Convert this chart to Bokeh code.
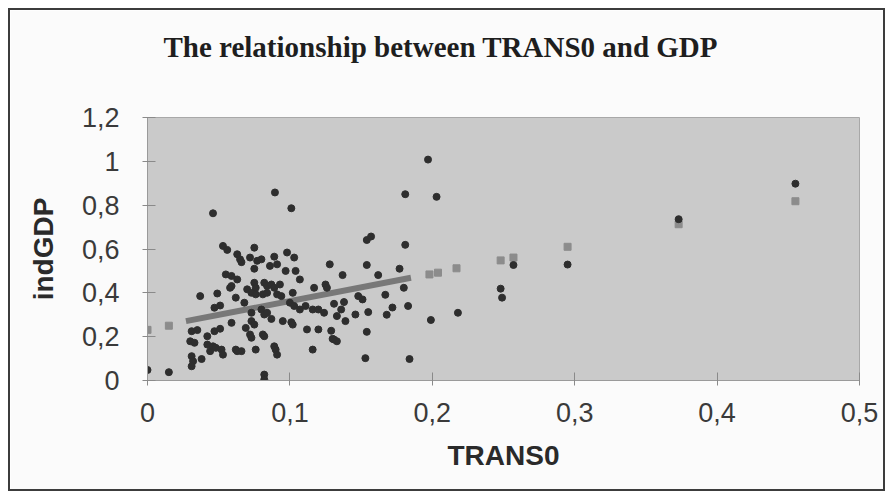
from bokeh.plotting import figure
from bokeh.models import Range1d, CustomJSTickFormatter, FixedTicker, Title
from bokeh.embed import file_html
from bokeh.resources import INLINE

# actual observations (TRANS0, indGDP)
trans0 = [0.000, 0.015, 0.030, 0.031, 0.031, 0.032, 0.031, 0.033, 0.035, 0.037,
          0.038, 0.042, 0.042, 0.044, 0.046, 0.046, 0.047, 0.047, 0.048, 0.049,
          0.051, 0.051, 0.052, 0.053, 0.053, 0.055, 0.056, 0.058, 0.059, 0.059,
          0.059, 0.062, 0.062, 0.063, 0.063, 0.063, 0.065, 0.066, 0.068, 0.069,
          0.070, 0.072, 0.072, 0.073, 0.073, 0.073, 0.073, 0.075, 0.075, 0.075,
          0.075, 0.076, 0.076, 0.076, 0.077, 0.080, 0.080, 0.081, 0.081, 0.082,
          0.082, 0.082, 0.082, 0.082, 0.084, 0.084, 0.084, 0.086, 0.087, 0.087,
          0.089, 0.089, 0.089, 0.090, 0.091, 0.0895, 0.091, 0.091, 0.093, 0.094,
          0.095, 0.097, 0.098, 0.100, 0.101, 0.101, 0.102, 0.102, 0.103, 0.103,
          0.104, 0.107, 0.107, 0.111, 0.112, 0.116, 0.116, 0.117, 0.120, 0.120,
          0.124, 0.125, 0.126, 0.128, 0.129, 0.131, 0.131, 0.133, 0.133, 0.136,
          0.137, 0.138, 0.139, 0.146, 0.148, 0.151, 0.153, 0.154, 0.157, 0.154,
          0.154, 0.155, 0.162, 0.167, 0.168, 0.172, 0.177, 0.180, 0.181, 0.181,
          0.183, 0.184, 0.197, 0.199, 0.203, 0.218, 0.248, 0.249, 0.257, 0.295,
          0.373, 0.455, 0.130, 0.066]
indgdp = [0.048, 0.038, 0.179, 0.225, 0.111, 0.088, 0.065, 0.172, 0.230, 0.385,
          0.098, 0.202, 0.164, 0.134, 0.156, 0.763, 0.332, 0.225, 0.149, 0.397,
          0.342, 0.236, 0.141, 0.614, 0.118, 0.484, 0.596, 0.423, 0.477, 0.263,
          0.431, 0.378, 0.141, 0.576, 0.461, 0.134, 0.553, 0.540, 0.355, 0.240,
          0.416, 0.561, 0.210, 0.400, 0.309, 0.271, 0.195, 0.606, 0.510, 0.446,
          0.255, 0.423, 0.393, 0.141, 0.546, 0.553, 0.324, 0.393, 0.210, 0.446,
          0.301, 0.202, 0.027, 0.004, 0.431, 0.400, 0.309, 0.523, 0.438, 0.281,
          0.565, 0.423, 0.156, 0.141, 0.118, 0.858, 0.530, 0.393, 0.438, 0.385,
          0.271, 0.500, 0.584, 0.355, 0.786, 0.266, 0.400, 0.255, 0.561, 0.340,
          0.500, 0.461, 0.324, 0.340, 0.233, 0.324, 0.141, 0.423, 0.324, 0.233,
          0.309, 0.438, 0.423, 0.530, 0.227, 0.350, 0.187, 0.294, 0.179, 0.324,
          0.481, 0.358, 0.271, 0.301, 0.385, 0.370, 0.102, 0.641, 0.657, 0.527,
          0.222, 0.312, 0.481, 0.391, 0.300, 0.333, 0.510, 0.423, 0.619, 0.850,
          0.340, 0.098, 1.008, 0.276, 0.838, 0.309, 0.419, 0.378, 0.527, 0.529,
          0.736, 0.898, 0.190, 0.134]

# fitted (predicted) values shown as grey squares
fit_x = [0.000, 0.015, 0.198, 0.204, 0.217, 0.248, 0.257, 0.295, 0.373, 0.455]
fit_y = [0.231, 0.250, 0.484, 0.492, 0.512, 0.548, 0.561, 0.610, 0.713, 0.818]

# dense part of the fitted values, seen as a band
band_x = [0.027, 0.185]
band_y = [0.271, 0.469]

x_ticks = [0, 0.1, 0.2, 0.3, 0.4, 0.5]
y_ticks = [0, 0.2, 0.4, 0.6, 0.8, 1.0, 1.2]

W, H = 877, 483
p = figure(width=W, height=H, output_backend="svg", toolbar_location=None,
           x_range=Range1d(0, 0.5), y_range=Range1d(0, 1.2),
           min_border_left=137, min_border_right=28, min_border_top=107,
           min_border_bottom=113)
p.margin = (8, 0, 0, 8)
p.styles = {"border": "2px solid #3c3c3c", "box-sizing": "border-box"}
p.border_fill_color = "#fbfbfb"
p.background_fill_color = "#cacaca"
p.outline_line_color = "#a8a8a8"
p.grid.visible = False

p.title.text = ""
# spacer between chart title and plot area (blank text, same colour as page)
spacer = Title(text=" ", text_font_size="10px", text_color="#fbfbfb",
               standoff=42)
p.add_layout(spacer, "above")
main_title = Title(text="The relationship between TRANS0 and GDP",
                   text_font="Liberation Serif", text_font_style="bold",
                   text_font_size="29px", text_color="#1e1e1e",
                   align="left", offset=16, standoff=0,
                   vertical_align="bottom")
p.add_layout(main_title, "above")

fmt = CustomJSTickFormatter(code="return (Math.round(tick*10)/10).toString().replace('.', ',');")
for ax, ticks in ((p.xaxis[0], x_ticks), (p.yaxis[0], y_ticks)):
    ax.ticker = FixedTicker(ticks=ticks)
    ax.formatter = fmt
    ax.minor_tick_line_color = None
    ax.major_tick_in = 8
    ax.major_tick_out = 5
    ax.major_tick_line_color = "#8a8a8a"
    ax.axis_line_color = "#9a9a9a"
    ax.major_label_text_font = "Liberation Sans"
    ax.major_label_text_font_size = "27px"
    ax.major_label_text_color = "#3a3a3a"
    ax.axis_label_text_font = "Liberation Sans"
    ax.axis_label_text_font_style = "bold"
    ax.axis_label_text_font_size = "28px"
    ax.axis_label_text_color = "#2a2a2a"

p.xaxis.axis_label = "TRANS0"
p.yaxis.axis_label = "indGDP"
p.xaxis.major_label_standoff = 17
p.yaxis.major_label_standoff = 23
p.xaxis.axis_label_standoff = 15
p.yaxis.axis_label_standoff = 20

p.line(band_x, band_y, line_color="#787878", line_width=6)
p.scatter(fit_x, fit_y, marker="square", size=7, fill_color="#8c8c8c",
          line_color="#8c8c8c")
p.scatter(trans0, indgdp, marker="circle", size=7, fill_color="#2e2e2e",
          line_color="#2e2e2e")

open("out.html", "w").write(file_html(p, INLINE))
